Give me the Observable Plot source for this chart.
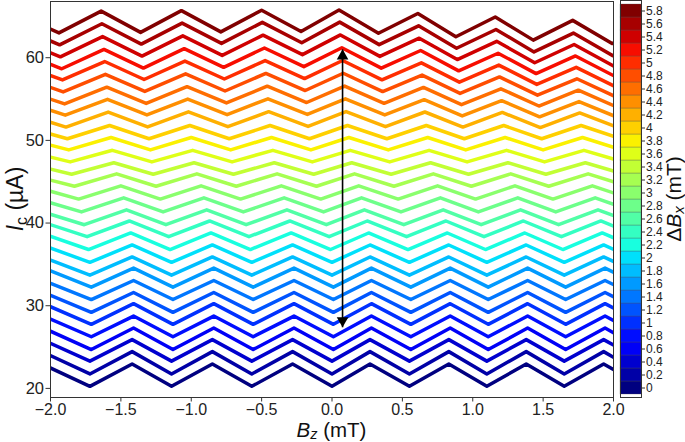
<!DOCTYPE html>
<html>
<head>
<meta charset="utf-8">
<script src="https://cdn.jsdelivr.net/npm/d3@7"></script>
<script src="https://cdn.jsdelivr.net/npm/@observablehq/plot@0.6"></script>
<style>
  body { margin: 0; background: #fff; }
  #wrap { position: relative; width: 685px; height: 442px; overflow: hidden; font-family: "Liberation Sans", Arial, sans-serif; }
  #main, #cbar { position: absolute; top: 0; }
  #main { left: 0; }
  #cbar { left: 600px; }
</style>
</head>
<body>
<div id="wrap"><div id="main"></div><div id="cbar"></div></div>
<script>
// ---- data ----
const deltaBx = [0, 0.2, 0.4, 0.6, 0.8, 1, 1.2, 1.4, 1.6, 1.8, 2, 2.2, 2.4, 2.6, 2.8,
                 3, 3.2, 3.4, 3.6, 3.8, 4, 4.2, 4.4, 4.6, 4.8, 5, 5.2, 5.4, 5.6, 5.8];
// mean Ic of each curve at Bz = -2, 0, +2 (µA)
const levelLeft  = [21.6, 23.1, 24.6, 26.0, 27.5, 29.0, 30.4, 31.9, 33.4, 34.8, 36.3, 37.8, 39.3, 40.7, 42.2,
                    43.7, 45.2, 46.6, 48.1, 49.6, 51.0, 52.5, 54.0, 55.4, 56.9, 58.4, 59.8, 61.3, 62.8, 64.3];
const levelZero  = [21.6, 23.1, 24.6, 26.0, 27.5, 29.0, 30.4, 31.9, 33.4, 34.8, 36.3, 37.8, 39.3, 40.7, 42.2,
                    43.7, 45.2, 46.6, 48.1, 49.6, 51.0, 52.6, 54.1, 55.6, 57.1, 58.6, 60.1, 61.6, 63.1, 64.5];
const levelRight = [21.6, 23.1, 24.6, 26.0, 27.5, 29.0, 30.4, 31.9, 33.4, 34.8, 36.3, 37.8, 39.3, 40.7, 42.2,
                    43.7, 45.2, 46.6, 48.1, 49.6, 51.0, 52.4, 53.7, 55.0, 56.3, 57.6, 58.9, 60.2, 61.5, 63.0];
// peak-to-valley swing of each curve (µA)
const curveSwing = [2.7, 2.7, 2.6, 2.6, 2.5, 2.5, 2.4, 2.3, 2.3, 2.2, 2.1, 2.0, 1.9, 1.8, 1.7,
                    1.6, 1.5, 1.4, 1.4, 1.5, 1.6, 1.8, 1.9, 2.0, 2.1, 2.2, 2.3, 2.4, 2.5, 2.6];
// horizontal shift of the cusps relative to the ΔBx = 0 curve (mT)
const curveShift = [0, 0, 0, 0.01, 0.01, 0.01, 0.01, 0.01, 0.01, 0, 0, -0.01, -0.02, -0.04, -0.06,
                    -0.08, -0.11, -0.13, -0.14, -0.15, -0.16, -0.17, -0.175, -0.18, -0.19, -0.195, -0.2, -0.21, -0.215, -0.22];
// cusp positions of the ΔBx = 0 curve (mT) and their kind (+1 maximum, -1 minimum)
const cuspBz   = [-2.40, -2.06, -1.72, -1.42, -1.14, -0.85, -0.57, -0.28, 0.00, 0.27, 0.55, 0.83, 1.10, 1.38, 1.65, 1.93, 2.21, 2.49];
const cuspSide = [-1, 1, -1, 1, -1, 1, -1, 1, -1, 1, -1, 1, -1, 1, -1, 1, -1, 1];
// double arrow
const arrowBz = 0.075;
const arrowIc = [27.4, 61.0];
// ticks
const xTicks = [-2, -1.5, -1, -0.5, 0, 0.5, 1, 1.5, 2];
const yTicks = [20, 30, 40, 50, 60];

// ---- jet colormap (matplotlib) ----
function seg(t, pts) {
  for (let i = 1; i < pts.length; i++) {
    if (t <= pts[i][0]) {
      const [x0, y0] = pts[i - 1], [x1, y1] = pts[i];
      return y0 + (y1 - y0) * (t - x0) / (x1 - x0);
    }
  }
  return pts[pts.length - 1][1];
}
function jet(t) {
  const r = seg(t, [[0, 0], [0.35, 0], [0.66, 1], [0.89, 1], [1, 0.5]]);
  const g = seg(t, [[0, 0], [0.125, 0], [0.375, 1], [0.64, 1], [0.91, 0], [1, 0]]);
  const b = seg(t, [[0, 0.5], [0.11, 1], [0.34, 1], [0.65, 0], [1, 0]]);
  return d3.rgb(r * 255, g * 255, b * 255).formatHex();
}
const colors = deltaBx.map((d, i) => jet(i / (deltaBx.length - 1)));
const colorOf = new Map(deltaBx.map((d, i) => [d, colors[i]]));

// ---- table for the lines ----
const rows = [];
deltaBx.forEach((dbx, i) => {
  cuspBz.forEach((bz0, j) => {
    const bz = bz0 + curveShift[i];
    const lvl = bz < 0
      ? levelLeft[i] + (levelZero[i] - levelLeft[i]) * (bz + 2) / 2
      : levelZero[i] + (levelRight[i] - levelZero[i]) * bz / 2;
    rows.push({dbx, bz, ic: lvl + cuspSide[j] * curveSwing[i] / 2});
  });
});

const FONT = '"Liberation Sans", Arial, sans-serif';

const main = Plot.plot({
  width: 685, height: 442,
  marginLeft: 50, marginRight: 72, marginTop: 1, marginBottom: 45,
  style: {fontFamily: FONT, background: "white", color: "#222"},
  x: {domain: [-2, 2], label: null},
  y: {domain: [18.9, 66.8], label: null},
  color: {type: "ordinal", domain: deltaBx, range: colors},
  marks: [
    Plot.line(rows, {x: "bz", y: "ic", z: "dbx", stroke: "dbx", strokeWidth: 3.5,
                     strokeLinejoin: "round", clip: true}),
    Plot.link([arrowIc], {x1: () => arrowBz, x2: () => arrowBz, y1: d => d[0], y2: d => d[1],
                          stroke: "black", strokeWidth: 1.6}),
    Plot.dot([arrowIc[1]], {x: () => arrowBz, y: d => d, symbol: "triangle", r: 4.3, fill: "black", dy: 6.6}),
    Plot.dot([arrowIc[0]], {x: () => arrowBz, y: d => d, symbol: "triangle", r: 4.3, fill: "black", rotate: 180, dy: -6.6}),
    Plot.frame({stroke: "#333", strokeWidth: 1}),
    Plot.axisX(xTicks, {tickSize: 4.5, tickPadding: 2, fontSize: 16, tickFormat: d3.format(".1f"), stroke: "#333", fill: "#222"}),
    Plot.axisY(yTicks, {tickSize: 4.5, tickPadding: 2, fontSize: 16.5, stroke: "#333", fill: "#222"})
  ]
});
document.getElementById("main").appendChild(main);

// axis titles with italics / subscripts
const msvg = d3.select(main);
const yt = msvg.append("text")
  .attr("transform", "translate(23,199) rotate(-90)")
  .attr("text-anchor", "middle").attr("font-size", 23).attr("font-family", FONT).attr("fill", "#111");
yt.append("tspan").attr("font-style", "italic").text("I");
yt.append("tspan").attr("font-size", 16).attr("dy", 4).text("c");
yt.append("tspan").attr("dy", -4).text(" (µA)");

const xt = msvg.append("text")
  .attr("x", 331.5).attr("y", 436.5)
  .attr("text-anchor", "middle").attr("font-size", 20.5).attr("font-family", FONT).attr("fill", "#111");
xt.append("tspan").attr("font-style", "italic").text("B");
xt.append("tspan").attr("font-style", "italic").attr("font-size", 14.5).attr("dy", 2).text("z");
xt.append("tspan").attr("dy", -2).text(" (mT)");

// ---- colorbar ----
const cbar = Plot.plot({
  width: 85, height: 442,
  marginLeft: 20, marginRight: 44, marginTop: 0, marginBottom: 45,
  style: {fontFamily: FONT, background: "transparent", color: "#222"},
  x: {domain: [0, 1], axis: null},
  y: {type: "band", domain: deltaBx.slice().reverse(), padding: 0, label: null, axis: null},
  marks: [
    Plot.barX(deltaBx, {x1: 0, x2: 1, y: d => d, fill: d => colorOf.get(d), inset: 0,
                        stroke: "#555", strokeWidth: 0.5, strokeOpacity: 0.6}),
    Plot.frame({stroke: "#333", strokeWidth: 1}),
    Plot.axisY({anchor: "right", tickSize: 3, tickPadding: 1.5, fontSize: 12,
                tickFormat: d => String(d), stroke: "#333", fill: "#222"})
  ]
});
document.getElementById("cbar").appendChild(cbar);
const csvg = d3.select(cbar);
const ct = csvg.append("text")
  .attr("transform", "translate(81,199) rotate(-90)")
  .attr("text-anchor", "middle").attr("font-size", 21).attr("font-family", FONT).attr("fill", "#111");
ct.append("tspan").text("Δ");
ct.append("tspan").attr("font-style", "italic").text("B");
ct.append("tspan").attr("font-style", "italic").attr("font-size", 15).attr("dy", 2.5).text("x");
ct.append("tspan").attr("dy", -2.5).text(" (mT)");
</script>
</body>
</html>
